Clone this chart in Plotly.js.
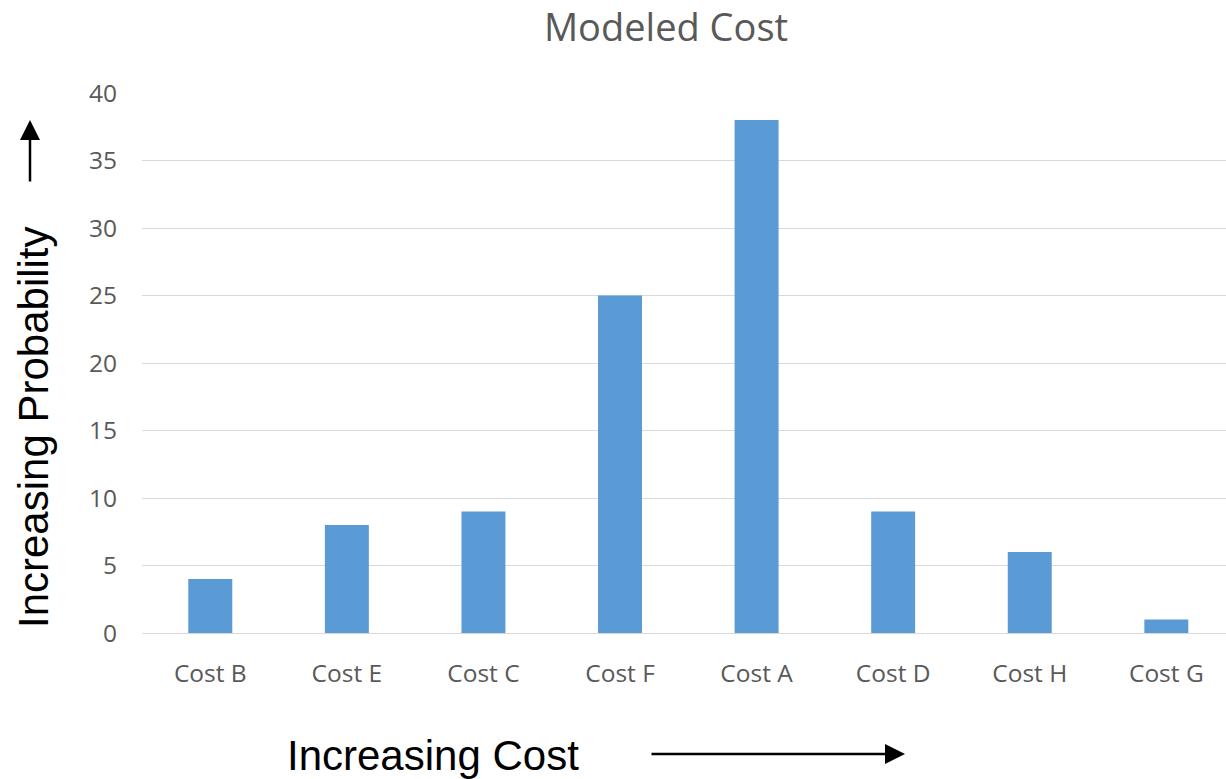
<!DOCTYPE html>
<html>
<head>
<meta charset="utf-8">
<script src="https://cdn.plot.ly/plotly-3.0.1.min.js"></script>
<style>html,body{margin:0;padding:0;background:#fff;}#chart{width:1226px;height:779px;}</style>
</head>
<body>
<div id="chart"></div>
<script>
const categories = ["Cost B", "Cost E", "Cost C", "Cost F", "Cost A", "Cost D", "Cost H", "Cost G"];
const values = [4, 8, 9, 25, 38, 9, 6, 1];
const yTicks = [0, 5, 10, 15, 20, 25, 30, 35, 40];
const chartTitle = "Modeled Cost";
const xTitle = "Increasing Cost";
const yTitle = "Increasing Probability";

const W = 1226, H = 779;
const L = 142, R = 0, T = 93, B = 146;
const pw = W - L - R, ph = H - T - B;
const px = v => (v - L) / pw;
const py = v => (H - B - v) / ph;

const trace = {
  type: 'bar',
  x: categories,
  y: values,
  marker: {color: '#5b9bd5'},
  hoverinfo: 'x+y'
};

const tickFont = {family: 'Open Sans, Noto Sans, sans-serif', size: 24.5, color: '#595959'};
const layout = {
  width: W, height: H,
  margin: {l: L, r: R, t: T, b: B, pad: 0},
  paper_bgcolor: '#ffffff', plot_bgcolor: '#ffffff',
  showlegend: false,
  bargap: 0.678,
  title: {
    text: chartTitle,
    font: {family: 'Open Sans, Noto Sans, sans-serif', size: 38, color: '#595959'},
    x: 666 / W, xanchor: 'center', xref: 'container',
    y: 1 - 28 / H, yanchor: 'middle', yref: 'container'
  },
  xaxis: {
    type: 'category',
    range: [-0.5, 7.437],
    showgrid: false, zeroline: false, showline: false,
    ticks: '', tickfont: tickFont,
    ticklabelstandoff: 23,
    fixedrange: true
  },
  yaxis: {
    range: [0, 40],
    tickvals: yTicks,
    ticktext: yTicks.map(String),
    showgrid: true, gridcolor: '#d9d9d9', gridwidth: 1.2,
    zeroline: true, zerolinecolor: '#d9d9d9', zerolinewidth: 1.2,
    showline: false, ticks: '', tickfont: tickFont,
    ticklabelstandoff: 24,
    fixedrange: true
  },
  annotations: [
    {
      text: xTitle, xref: 'paper', yref: 'paper',
      x: px(433), y: py(755), xanchor: 'center', yanchor: 'middle',
      showarrow: false,
      font: {family: 'Liberation Sans, Arial, sans-serif', size: 42, color: '#000000'}
    },
    {
      text: yTitle, xref: 'paper', yref: 'paper',
      x: px(33), y: py(427), xanchor: 'center', yanchor: 'middle',
      textangle: -90, showarrow: false,
      font: {family: 'Liberation Sans, Arial, sans-serif', size: 42, color: '#000000'}
    },
    {
      text: '', xref: 'paper', yref: 'paper',
      x: px(905), y: py(754), ax: -255, ay: 0,
      showarrow: true, arrowhead: 2, arrowsize: 1.6, arrowwidth: 2.5, arrowcolor: '#000000'
    },
    {
      text: '', xref: 'paper', yref: 'paper',
      x: px(30), y: py(120), ax: 0, ay: 63,
      showarrow: true, arrowhead: 2, arrowsize: 1.6, arrowwidth: 2.5, arrowcolor: '#000000'
    }
  ]
};

Plotly.newPlot('chart', [trace], layout, {displayModeBar: false, staticPlot: false});
</script>
</body>
</html>
